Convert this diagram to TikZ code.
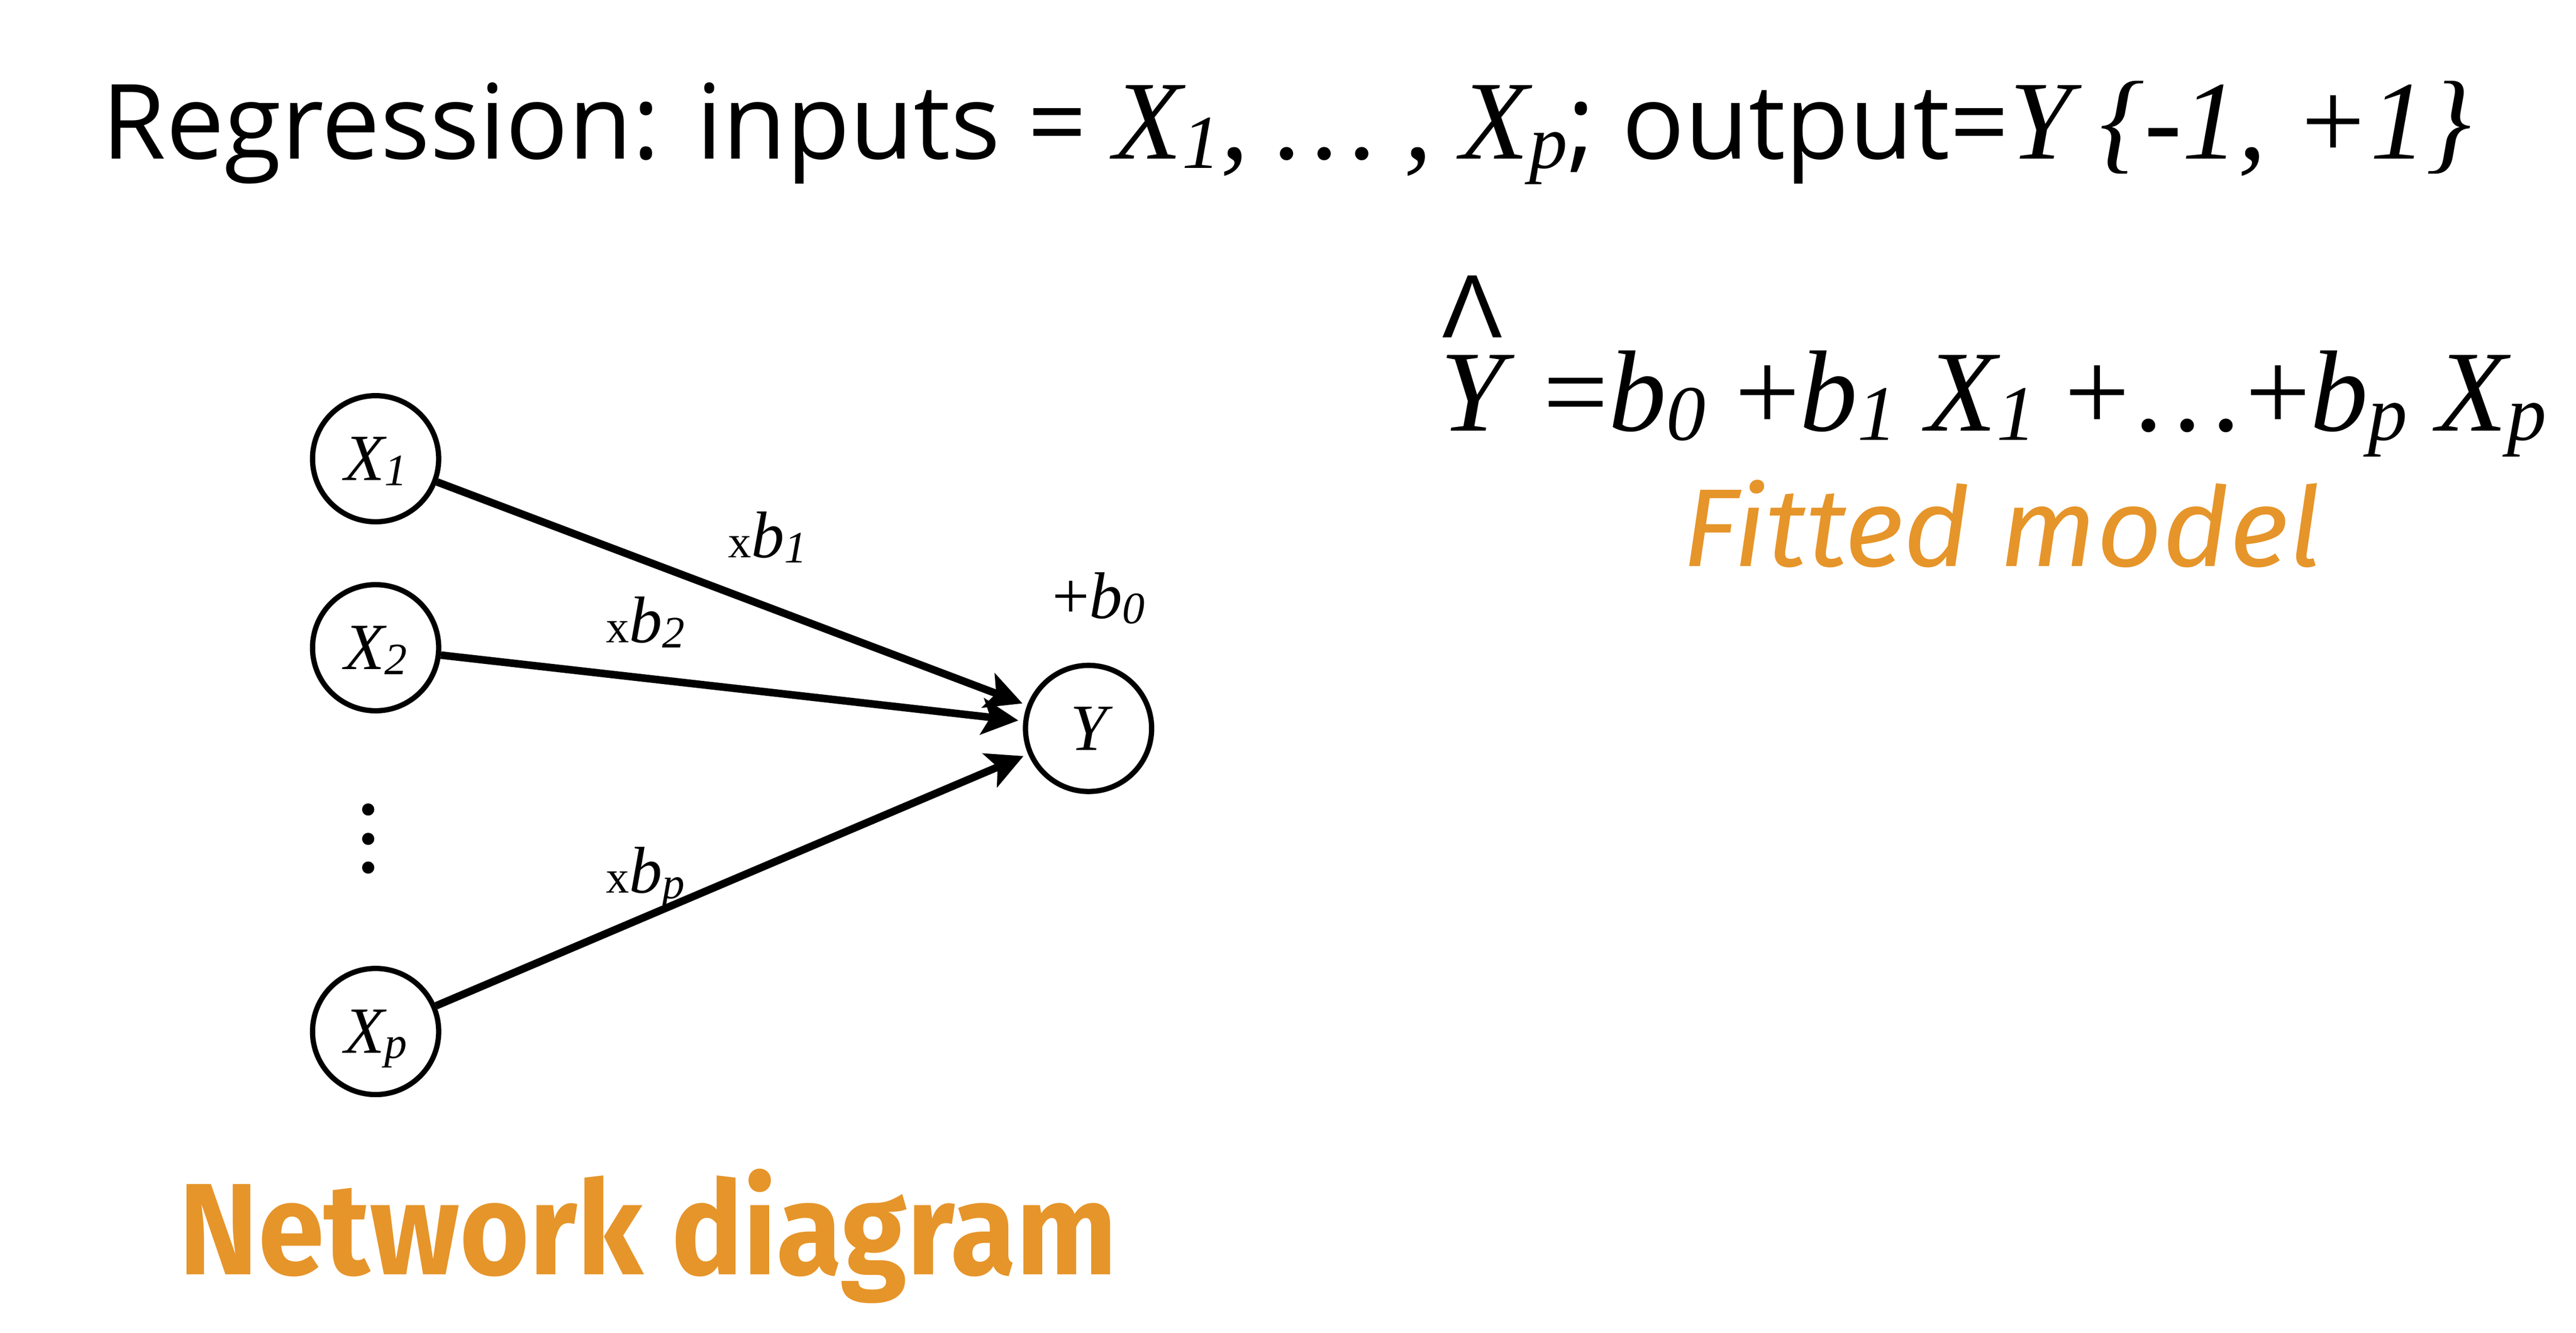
\documentclass[tikz,border=0pt]{standalone}
\usepackage{fontspec}
\usepackage{graphicx}
\setmainfont{Liberation Serif}
\newfontfamily\titlefont{Open Sans}
\newfontfamily\handfont{Fira Sans}
\newfontfamily\hatfont{Liberation Sans}
\usetikzlibrary{arrows.meta}
\definecolor{hand}{RGB}{230,149,42}
\newcommand\ssub[1]{\raisebox{-0.08em}{\scalebox{0.68}{#1}}}
\newcommand\hatover{\rlap{\hspace*{1.3pt}\raisebox{56.4pt}{\hatfont\fontsize{54.5}{60}\selectfont Λ}}}
\begin{document}
\begin{tikzpicture}[x=1pt,y=-1pt,
  unit/.style={circle,draw,line width=3.2pt,minimum size=76.4pt,inner sep=0pt,text depth=0pt,
    font=\fontsize{40}{48}\selectfont\itshape},
  conn/.style={line width=4.6pt,-{Stealth[length=22pt,width=22pt,inset=5pt]},shorten >=3pt},
  wlabel/.style={anchor=base west,inner sep=0pt,font=\fontsize{40}{48}\selectfont},
  vdot/.style={circle,fill,inner sep=0pt,minimum size=7.4pt},
  handtext/.style={anchor=base west,inner sep=0pt,text=hand}]
\useasboundingbox (0,0) rectangle (1560.2,807.3);

% title
\node[anchor=base west,inner sep=0pt] (title) at (61.5,96.4)
  {\fontsize{63}{70}\selectfont{\titlefont Regression: inputs = }{\fontsize{68}{70}\selectfont\itshape X\ssub{1}, … , X\ssub{p}}{\titlefont ; output=}{\fontsize{68}{70}\selectfont\itshape Y \{-1, +1\}}};

% network
\node[unit] (x1) at (227.5,277.9) {X\ssub{1}};
\node[unit] (x2) at (227.5,392.4) {X\ssub{2}};
\node[unit] (xp) at (227.5,624.9) {X\ssub{p}};
\node[unit] (y)  at (659.3,441.3) {Y};

\node[vdot] (d1) at (223,490.4) {};
\node[vdot] (d2) at (223,508.2) {};
\node[vdot] (d3) at (223,525.6) {};

\draw[conn] (x1) -- (y);
\draw[conn] (x2) -- (y);
\draw[conn] (xp) -- (y);

\node[wlabel] (lb1) at (441,337.8) {{\fontsize{28}{28}\selectfont x}\textit{b\ssub{1}}};
\node[wlabel] (lb2) at (367,389.3) {{\fontsize{28}{28}\selectfont x}\textit{b\ssub{2}}};
\node[wlabel] (lbp) at (367,541) {{\fontsize{28}{28}\selectfont x}\textit{b\ssub{p}}};
\node[wlabel] (lb0) at (637,374.6) {+\textit{b\ssub{0}}};

% formula (hat set as part of the same text)
\node[anchor=base west,inner sep=0pt] (fm) at (872,260.9)
  {\fontsize{70}{80}\selectfont\hatover\textit{Y} =\textit{b\ssub{0}} +\textit{b\ssub{1}} \textit{X\ssub{1}} +…+\textit{b\ssub{p}} \textit{X\ssub{p}}};

\node[handtext] (fit) at (1018.8,343) {\resizebox{387pt}{52.3pt}{\handfont\itshape Fitted model}};
\node[handtext] (nd) at (108.2,772) {\resizebox{567.7pt}{64pt}{\handfont\bfseries Network diagram}};
\end{tikzpicture}
\end{document}
